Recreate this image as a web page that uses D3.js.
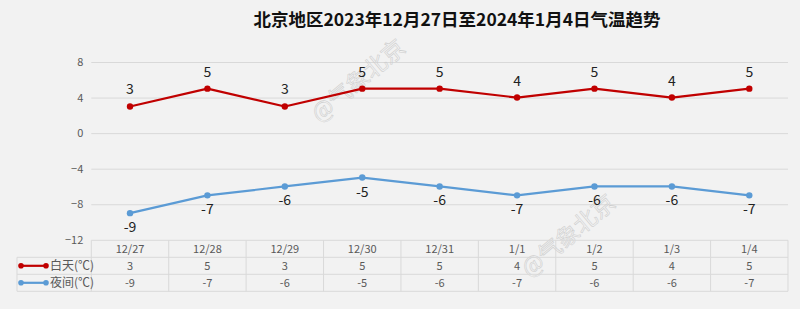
<!DOCTYPE html>
<html>
<head>
<meta charset="utf-8">
<script src="https://cdn.jsdelivr.net/npm/d3@7"></script>
<style>
  html, body { margin: 0; padding: 0; background: #f2f2f2; }
  svg { display: block; }
</style>
</head>
<body>
<svg id="chart" width="800" height="309"></svg>
<script>
// Beijing daily temperatures, 2023-12-27 .. 2024-01-04
const dates = ["12/27", "12/28", "12/29", "12/30", "12/31", "1/1", "1/2", "1/3", "1/4"];
const dayTemps = [3, 5, 3, 5, 5, 4, 5, 4, 5];
const nightTemps = [-9, -7, -6, -5, -6, -7, -6, -6, -7];
const yTicks = [8, 4, 0, -4, -8, -12];
const seriesNames = ["白天(℃)", "夜间(℃)"];
const titleText = "北京地区2023年12月27日至2024年1月4日气温趋势";
const watermarkText = "@气象北京";

const svg = d3.select("#chart");
const W = 800, H = 309;
const font = "'Noto Sans CJK SC', 'Noto Sans', sans-serif";

svg.append("rect").attr("width", W).attr("height", H).attr("fill", "#f2f2f2");

const plotL = 91.3, plotR = 788, plotT = 62, plotB = 239.8;
const colors = ["#c00000", "#5b9bd5"];

const x = d3.scaleBand().domain(dates).range([plotL, plotR]).padding(0);
const y = d3.scaleLinear().domain([-12, 8]).range([plotB, plotT]);

// title
svg.append("text")
  .attr("x", 457).attr("y", 26)
  .attr("text-anchor", "middle")
  .attr("font-family", font)
  .attr("font-weight", "bold")
  .attr("font-size", 17.5)
  .attr("fill", "#111")
  .text(titleText);

// gridlines and y-axis labels
const yAxis = d3.axisLeft(y).tickValues(yTicks).tickSize(-(plotR - plotL)).tickPadding(8);
const gy = svg.append("g").attr("transform", `translate(${plotL},0)`).call(yAxis);
gy.select(".domain").remove();
gy.selectAll(".tick line").attr("stroke", "#d9d9d9").attr("stroke-width", 1)
  .attr("display", d => d === -12 ? "none" : null);
gy.selectAll(".tick text")
  .attr("font-family", font).attr("font-size", 11).attr("fill", "#595959");

// watermarks (hollow outlined text)
function watermark(cx, cy) {
  svg.append("text")
    .attr("transform", `translate(${cx},${cy}) rotate(-40)`)
    .attr("text-anchor", "middle")
    .attr("dominant-baseline", "central")
    .attr("font-family", font)
    .attr("font-size", 23)
    .attr("fill", "none")
    .attr("stroke", "#cdcdcd")
    .attr("stroke-width", 0.55)
    .text(watermarkText);
}
watermark(357, 79);
watermark(567, 234);

// series lines, markers and value labels
const cx = d => x(d) + x.bandwidth() / 2;
[dayTemps, nightTemps].forEach((vals, si) => {
  const pts = dates.map((d, i) => [cx(d), y(vals[i])]);
  svg.append("path")
    .attr("d", d3.line()(pts))
    .attr("fill", "none")
    .attr("stroke", colors[si])
    .attr("stroke-width", 2.2)
    .attr("stroke-linejoin", "round");
  svg.selectAll(null).data(pts).enter().append("circle")
    .attr("cx", p => p[0]).attr("cy", p => p[1]).attr("r", 3.2)
    .attr("fill", colors[si]);
  svg.selectAll(null).data(vals).enter().append("text")
    .attr("x", (v, i) => cx(dates[i]))
    .attr("y", v => si === 0 ? y(v) - 12 : y(v) + 19)
    .attr("text-anchor", "middle")
    .attr("font-family", font)
    .attr("font-size", 14)
    .attr("fill", "#222")
    .text(v => v);
});

// data table below the plot
const rowH = 17;
const tTop = 240.3;
const lineColor = "#d9d9d9";
const tbl = svg.append("g");
const legLeft = 17;

// horizontal rules
tbl.append("line").attr("x1", plotL).attr("x2", plotR).attr("y1", tTop).attr("y2", tTop);
[1, 2, 3].forEach(k => {
  tbl.append("line").attr("x1", legLeft).attr("x2", plotR)
    .attr("y1", tTop + k * rowH).attr("y2", tTop + k * rowH);
});
// vertical rules
tbl.append("line").attr("x1", legLeft).attr("x2", legLeft)
  .attr("y1", tTop + rowH).attr("y2", tTop + 3 * rowH);
d3.range(dates.length + 1).forEach(i => {
  const xx = plotL + i * x.bandwidth();
  tbl.append("line").attr("x1", xx).attr("x2", xx)
    .attr("y1", tTop).attr("y2", tTop + 3 * rowH);
});
tbl.selectAll("line").attr("stroke", lineColor).attr("stroke-width", 1);

// header row
tbl.selectAll(null).data(dates).enter().append("text")
  .attr("x", d => cx(d)).attr("y", tTop + rowH / 2)
  .attr("dy", "0.35em").attr("text-anchor", "middle")
  .attr("font-family", font).attr("font-size", 11).attr("fill", "#595959")
  .text(d => d);

// value rows with legend keys
[dayTemps, nightTemps].forEach((vals, si) => {
  const ry = tTop + (si + 1) * rowH + rowH / 2;
  tbl.append("line").attr("x1", 21).attr("x2", 46).attr("y1", ry).attr("y2", ry)
    .attr("stroke", colors[si]).attr("stroke-width", 2.2);
  [21, 46].forEach(px => tbl.append("circle").attr("cx", px).attr("cy", ry).attr("r", 2.8).attr("fill", colors[si]));
  tbl.append("text").attr("x", 50).attr("y", ry).attr("dy", "0.35em")
    .attr("font-family", font).attr("font-size", 12).attr("fill", "#595959")
    .text(seriesNames[si]);
  tbl.selectAll(null).data(vals).enter().append("text")
    .attr("x", (v, i) => cx(dates[i])).attr("y", ry).attr("dy", "0.35em")
    .attr("text-anchor", "middle")
    .attr("font-family", font).attr("font-size", 11).attr("fill", "#595959")
    .text(v => v);
});
</script>
</body>
</html>
